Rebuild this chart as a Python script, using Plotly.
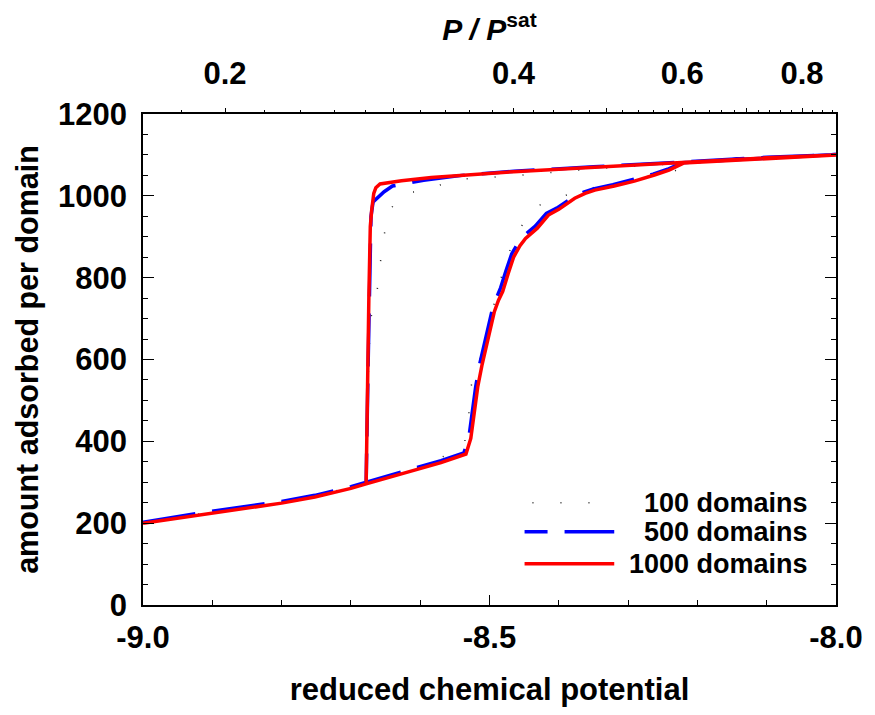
import math
import plotly.graph_objects as go

# ---------------- data ----------------
# 1000 domains: adsorption (-9 -> -8) followed by desorption (-8 -> back down)
mu_1000 = [-9.000, -8.950, -8.902, -8.850, -8.800, -8.752, -8.729, -8.700, -8.678, -8.640,
           -8.609, -8.570, -8.534, -8.527, -8.522, -8.517, -8.511, -8.505, -8.499, -8.493,
           -8.487, -8.481, -8.473, -8.465, -8.456, -8.448, -8.431, -8.415, -8.400, -8.388,
           -8.377, -8.362, -8.348, -8.320, -8.291, -8.262, -8.241, -8.220, -8.150, -8.075,
           -8.000,
           -8.100, -8.220, -8.348, -8.465, -8.537, -8.584, -8.627, -8.658, -8.664, -8.667,
           -8.670, -8.672, -8.674, -8.675, -8.677, -8.678]
n_1000 = [200, 212, 225, 237, 249, 264, 273, 285, 296, 314,
          330, 348, 369, 407, 470, 533, 585, 631, 675, 717,
          745, 766, 810, 851, 878, 896, 921, 953, 967, 982,
          994, 1006, 1014, 1024, 1036, 1051, 1063, 1080, 1087, 1094,
          1100,
          1093, 1081, 1070, 1059, 1051, 1045, 1037, 1029, 1020, 1006,
          965, 925, 762, 599, 362, 296]

# 500 domains
mu_500 = [-9.000, -8.902, -8.800, -8.752, -8.700, -8.678, -8.609, -8.570, -8.537, -8.530,
          -8.525, -8.520, -8.514, -8.508, -8.502, -8.496, -8.490, -8.484, -8.476, -8.468,
          -8.459, -8.451, -8.434, -8.418, -8.403, -8.390, -8.379, -8.364, -8.350, -8.322,
          -8.293, -8.264, -8.243, -8.222, -8.150, -8.075, -8.000,
          -8.100, -8.220, -8.350, -8.465, -8.540, -8.595, -8.640, -8.652, -8.668, -8.671,
          -8.673, -8.675, -8.677, -8.678]
n_500 = [202, 229, 253, 268, 289, 300, 334, 353, 372, 407,
         470, 533, 590, 636, 680, 722, 750, 775, 818, 858,
         884, 902, 926, 957, 970, 985, 997, 1009, 1017, 1027,
         1039, 1053, 1065, 1081, 1088, 1095, 1101,
         1094, 1082, 1071, 1060, 1050, 1038, 1024, 1010, 985, 950,
         800, 600, 400, 300]

# 100 domains
mu_100 = [-9.000, -8.902, -8.800, -8.700, -8.609, -8.565, -8.536, -8.530, -8.528, -8.515,
          -8.505, -8.495, -8.485, -8.472, -8.458, -8.434, -8.393, -8.350, -8.300, -8.234,
          -8.200, -8.100, -8.000,
          -8.100, -8.200, -8.350, -8.437, -8.476, -8.515, -8.553, -8.588, -8.626, -8.648,
          -8.653, -8.659, -8.663, -8.672, -8.675, -8.677, -8.678]
n_100 = [201, 227, 251, 287, 332, 364, 395, 460, 528, 591,
         660, 725, 790, 860, 916, 973, 1000, 1020, 1038, 1060,
         1083, 1093, 1100,
         1092, 1082, 1066, 1053, 1048, 1043, 1040, 1014, 1006, 955,
         888, 820, 753, 697, 560, 420, 297]

series_names = ["100 domains", "500 domains", "1000 domains"]

# bottom / left axis ticks
x_tickvals = [-9.0, -8.5, -8.0]
x_ticktext = ["-9.0", "-8.5", "-8.0"]
y_tickvals = [0, 200, 400, 600, 800, 1000, 1200]

# top-axis conversion  P/Psat = exp((mu - mu_sat) / T*)
T_STAR = 0.6006
MU_SAT = -7.915
MU_RANGE = [-9.0, -8.0]
top_labelled = [0.2, 0.4, 0.6, 0.8]
top_labels = ["0.2", "0.4", "0.6", "0.8"]
top_unlabelled = [0.3, 0.5, 0.7]
top_minor = [0.18, 0.22, 0.24, 0.26, 0.28, 0.32, 0.34, 0.36, 0.38, 0.42, 0.44, 0.46, 0.48,
             0.52, 0.54, 0.56, 0.58, 0.62, 0.64, 0.66, 0.68, 0.72, 0.74, 0.76, 0.78,
             0.82, 0.84, 0.86]


def p_ratio(mu):
    return math.exp((mu - MU_SAT) / T_STAR)


FONT = "Liberation Sans, Arial, sans-serif"
BOLD = dict(family=FONT, color="black", weight="bold")

fig = go.Figure()
fig.add_trace(go.Scatter(x=mu_100, y=n_100, mode="lines", name=series_names[0],
                         line=dict(color="#222222", width=1.5, dash="1px,27px")))
fig.add_trace(go.Scatter(x=mu_500, y=n_500, mode="lines", name=series_names[1],
                         line=dict(color="#0000ff", width=3.5, dash="53px,17px")))
fig.add_trace(go.Scatter(x=mu_1000, y=n_1000, mode="lines", name=series_names[2],
                         line=dict(color="#ff0000", width=3.5)))
# invisible traces on the top (P/Psat) axes
p_1000 = [p_ratio(m) for m in mu_1000]
for ax in ("x2", "x3"):
    fig.add_trace(go.Scatter(x=p_1000, y=n_1000, xaxis=ax, mode="markers",
                             marker=dict(opacity=0), hoverinfo="skip", showlegend=False))

# manual legend (right-aligned text)
leg_y = [0.208, 0.149, 0.084]
leg_styles = [dict(color="#222222", width=1.5, dash="1px,27px"),
              dict(color="#0000ff", width=3.5, dash="23px,17px,53px,17px"),
              dict(color="#ff0000", width=3.5)]
leg_x0 = [0.562, 0.5506, 0.5506]
for name, yy, st, x0 in zip(series_names, leg_y, leg_styles, leg_x0):
    fig.add_shape(type="line", xref="paper", yref="paper", x0=x0, x1=0.680, y0=yy, y1=yy,
                  line=st)
    fig.add_annotation(xref="paper", yref="paper", x=0.963, y=yy, text=name,
                       showarrow=False, xanchor="right", yanchor="middle",
                       font=dict(size=27, **BOLD))

top_range = [math.log10(p_ratio(MU_RANGE[0])), math.log10(p_ratio(MU_RANGE[1]))]

# the page body adds an 8 px offset, so the figure is 8 px smaller than the window
fig.update_layout(
    width=867, height=707,
    margin=dict(l=135, r=31, t=106, b=110),
    plot_bgcolor="white", paper_bgcolor="white",
    showlegend=False,
    font=dict(size=30, **BOLD),
    xaxis=dict(
        range=MU_RANGE, tickvals=x_tickvals, ticktext=x_ticktext,
        ticks="inside", ticklen=10, tickwidth=1, tickcolor="black",
        minor=dict(dtick=0.1, tick0=-9.0, ticks="inside", ticklen=5, tickwidth=1,
                   tickcolor="black", showgrid=False),
        showline=True, linecolor="black", linewidth=1.5, mirror=True,
        showgrid=False, zeroline=False,
        tickfont=dict(size=31, **BOLD), ticklabelstandoff=4,
        title=dict(text="reduced chemical potential", font=dict(size=31, **BOLD), standoff=24),
    ),
    yaxis=dict(
        range=[0, 1200], tickvals=y_tickvals,
        ticks="inside", ticklen=11, tickwidth=1, tickcolor="black",
        minor=dict(dtick=50, tick0=0, ticks="inside", ticklen=5, tickwidth=1,
                   tickcolor="black", showgrid=False),
        showline=True, linecolor="black", linewidth=1.5, mirror="ticks",
        showgrid=False, zeroline=False,
        tickfont=dict(size=31, **BOLD), ticklabelstandoff=8,
        title=dict(text="amount adsorbed per domain", font=dict(size=30.5, **BOLD), standoff=10),
    ),
    xaxis2=dict(
        overlaying="x", side="top", anchor="y", type="log", range=top_range,
        tickmode="array", tickvals=top_labelled, ticktext=top_labels,
        ticks="outside", ticklen=5, tickwidth=1, tickcolor="black",
        minor=dict(tickmode="array", tickvals=top_minor, ticks="outside", ticklen=3,
                   tickwidth=1, tickcolor="black", showgrid=False),
        showline=False, showgrid=False, zeroline=False,
        tickfont=dict(size=31, **BOLD), ticklabelstandoff=12,
        title=dict(text="<i>P / P</i><sup>sat</sup>", font=dict(size=30, **BOLD), standoff=6),
    ),
    xaxis3=dict(
        overlaying="x", side="top", anchor="y", type="log", range=top_range,
        tickmode="array", tickvals=top_unlabelled, showticklabels=False,
        ticks="outside", ticklen=5, tickwidth=1, tickcolor="black",
        showline=False, showgrid=False, zeroline=False,
    ),
)

fig.write_html("out.html")
